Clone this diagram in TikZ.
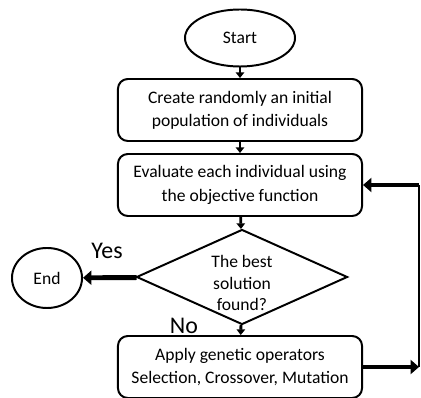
\documentclass[tikz,border=0pt]{standalone}
\usepackage{fontspec}
\setmainfont{Carlito}
\usetikzlibrary{shapes.geometric, arrows.meta}

\tikzset{
  stepbox/.style = {draw, line width=1.4pt, rounded corners=7pt, minimum width=6.1cm,
                    minimum height=1.55cm, align=center, font=\fontsize{12.5}{16.5}\selectfont},
  terminal/.style = {draw, ellipse, line width=1.4pt, inner sep=0pt, font=\fontsize{12.5}{15}\selectfont},
  decision/.style = {draw, diamond, line width=1.4pt, inner sep=0pt, minimum width=5.275cm,
                     minimum height=2.375cm},
  flow/.style = {line width=2pt, -{Triangle[length=4pt, width=6pt]}},
  bigflow/.style = {line width=3.5pt, -{Triangle[length=6pt, width=10pt]}},
  answer/.style = {font=\fontsize{17}{20}\selectfont}
}

\begin{document}
\begin{tikzpicture}[x=0.025cm, y=-0.025cm]
\useasboundingbox (0,0) rectangle (421,398);
\node[terminal, minimum width=2.75cm, minimum height=1.425cm] (start) at (240,38) {Start};
\node[stepbox] (create) at (240,110) {Create randomly an initial\\population of individuals};
\node[stepbox] (eval) at (240,185) {Evaluate each individual using\\the objective function};
\node[decision, label={[align=center, font=\fontsize{12.5}{15.5}\selectfont, yshift=-0.15cm]center:The best\\solution\\found?}]
      (best) at (242,277) {};
\node[terminal, minimum width=1.75cm, minimum height=1.5cm] (end) at (47,278) {End};
\node[stepbox] (apply) at (240,367) {Apply genetic operators\\Selection, Crossover, Mutation};
\node[answer] (yes) at (107,251) {Yes};
\node[answer] (no) at (184,326) {No};
\coordinate (turn) at (419,367);

\draw[flow] (start) -- (create);
\draw[flow] (create) -- (eval);
\draw[flow] (eval) -- (best);
\draw[flow] (best) -- (apply);
\draw[bigflow] (best) -- (end);
\draw[bigflow] (apply) -- (turn);
\draw[line width=1.5pt] (turn) -- (turn |- eval);
\draw[bigflow] (turn |- eval) -- (eval);
\end{tikzpicture}
\end{document}
